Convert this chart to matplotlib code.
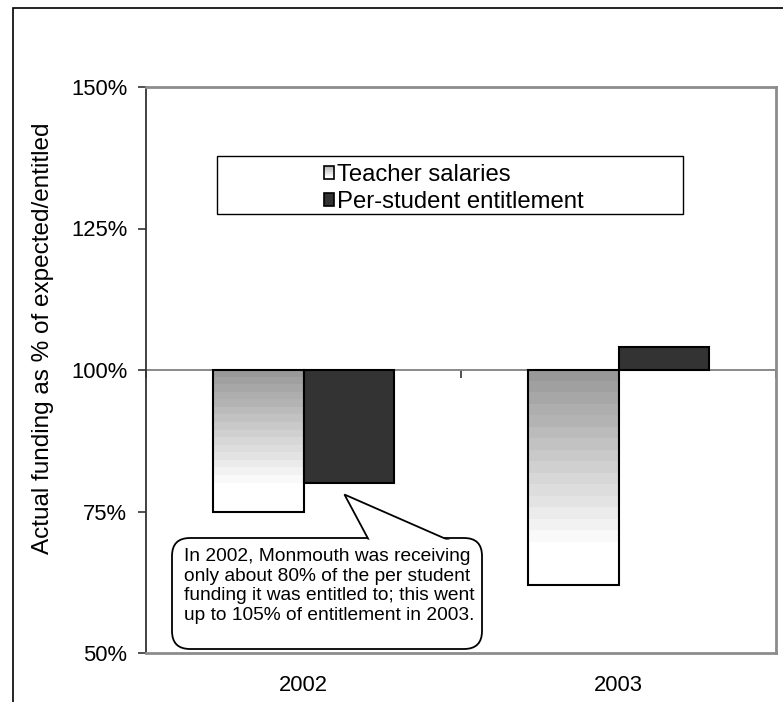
import numpy as np
import matplotlib
matplotlib.use('Agg')
import matplotlib.pyplot as plt
from matplotlib.patches import Rectangle, FancyBboxPatch, Polygon
from matplotlib.legend_handler import HandlerBase

# ---- data ----
years = ['2002', '2003']
teacher_salaries = [0.75, 0.62]
per_student = [0.80, 1.04]
series_labels = ['Teacher salaries', 'Per-student entitlement']
y_ticks = [0.50, 0.75, 1.00, 1.25, 1.50]
y_tick_labels = ['50%', '75%', '100%', '125%', '150%']
baseline = 1.0
y_label = 'Actual funding as % of expected/entitled'
note = ("In 2002, Monmouth was receiving\nonly about 80% of the per student\n"
        "funding it was entitled to; this went\nup to 105% of entitlement in 2003.")
note_target = (0.13, 0.78)   # point the callout refers to (data coords)

plt.rcParams['font.family'] = ['Liberation Sans', 'DejaVu Sans']

W, H = 783, 702
DPI = 100
fig = plt.figure(figsize=(W / DPI, H / DPI), dpi=DPI)


def fx(px):
    return px / W


def fy(py):
    return 1 - py / H


# outer chart frame (only top and left edges fall inside the picture)
fig.patches.append(Rectangle((fx(13), -0.1), 1.2, fy(8) + 0.1,
                             transform=fig.transFigure, fill=False,
                             ec='black', lw=1.2))

ax = fig.add_axes([fx(146), fy(653), fx(776) - fx(146), fy(87) - fy(653)])

x = np.arange(len(years))
w = 0.287
dark = '#333333'

t_vals = np.array(teacher_salaries)
p_vals = np.array(per_student)

tbars = ax.bar(x - w / 2, t_vals - baseline, width=w, bottom=baseline,
               facecolor='none', edgecolor='black', linewidth=1.5, zorder=3)
pbars = ax.bar(x + w / 2, p_vals - baseline, width=w, bottom=baseline,
               facecolor=dark, edgecolor='black', linewidth=1.5, zorder=3)

# stepped gradient fill of teacher bars (grey at top, white at bottom)
n = 300
t = np.linspace(0, 1, n)
levels = 15
g = 0.60 + 0.40 * np.floor(np.clip(t / 0.8, 0, 1) * levels) / levels
grad = g.reshape(-1, 1)
for bar in tbars:
    x0 = bar.get_x()
    x1 = x0 + bar.get_width()
    y0 = bar.get_y() + bar.get_height()
    y1 = bar.get_y()
    im = ax.imshow(grad, extent=[x0, x1, y0, y1], origin='upper',
                   cmap='gray', vmin=0, vmax=1, aspect='auto',
                   interpolation='nearest', zorder=2)
    im.set_clip_path(bar)

ax.set_xlim(-0.5, 1.5)
ax.set_ylim(0.5, 1.5)

ax.set_yticks(y_ticks)
ax.set_yticklabels(y_tick_labels)
ax.tick_params(axis='y', length=6, width=1.2, color='#333333', pad=7.5,
               labelsize=15.8, labelcolor='black')
ax.set_xticks(x)
ax.set_xticklabels(years)
ax.tick_params(axis='x', length=0, pad=16, labelsize=15.8)

for s in ['top', 'right', 'bottom']:
    ax.spines[s].set_color('#8c8c8c')
    ax.spines[s].set_linewidth(2)
ax.spines['left'].set_color('#333333')
ax.spines['left'].set_linewidth(1.3)

# category axis crossing at 100%
sec = ax.secondary_xaxis(0.5)
sec.set_alignment('bottom')
sec.set_xticks([-0.5, 0.5, 1.5])
sec.tick_params(axis='x', length=6, width=1.2, color='#333333',
                labelbottom=False, labeltop=False, direction='out')
for s in sec.spines.values():
    s.set_color('#808080')
    s.set_linewidth(1.3)

# y label
fig.text(fx(43), fy(338), y_label, rotation=90, ha='center', va='center',
         fontsize=17.5)


# legend
class GradientHandler(HandlerBase):
    def create_artists(self, legend, orig_handle, xdescent, ydescent,
                       width, height, fontsize, trans):
        arts = []
        m = 6
        for i in range(m):
            gv = 0.72 + 0.28 * i / (m - 1)
            r = Rectangle((-xdescent, -ydescent + height * (1 - (i + 1) / m)),
                          width, height / m, facecolor=(gv, gv, gv),
                          edgecolor='none', transform=trans)
            arts.append(r)
        arts.append(Rectangle((-xdescent, -ydescent), width, height,
                              facecolor='none', edgecolor='black',
                              lw=1.2, transform=trans))
        return arts


h1 = Rectangle((0, 0), 1, 1, fc='#dddddd', ec='black')
h2 = Rectangle((0, 0), 1, 1, fc=dark, ec='black', lw=1.2)
leg = fig.legend([h1, h2], series_labels, loc='center',
                 bbox_to_anchor=(fx(454), fy(188.5)), frameon=False,
                 fontsize=17.2, handlelength=0.42, handleheight=0.42,
                 handletextpad=0.15, labelspacing=0.22,
                 handler_map={h1: GradientHandler()})
fig.patches.append(Rectangle((fx(217), fy(214)), fx(683) - fx(217),
                             fy(156) - fy(214), transform=fig.transFigure,
                             fill=False, ec='black', lw=1.0))

# callout bubble (rounded box + wedge pointing at the 2002 per-student bar)
inch = fig.dpi_scale_trans
bx0, by0, bx1, by1 = 172, 538, 482, 649     # pixel box, y from top
rad = 18
box_kw = dict(transform=inch)
box = FancyBboxPatch((bx0 / DPI, (H - by1) / DPI), (bx1 - bx0) / DPI,
                     (by1 - by0) / DPI,
                     boxstyle=f'round,pad=0,rounding_size={rad / DPI}',
                     fc='white', ec='black', lw=1.3, zorder=1.1, **box_kw)
fig.patches.append(box)
tip = ax.transData.transform(note_target) / DPI
wedge = Polygon([tip, (372 / DPI, (H - 546) / DPI), (462 / DPI, (H - 546) / DPI)],
                closed=True, fc='white', ec='black', lw=1.3, zorder=1.2,
                transform=inch)
fig.patches.append(wedge)
ins = 1.6
cover = FancyBboxPatch(((bx0 + ins) / DPI, (H - by1 + ins) / DPI),
                       (bx1 - bx0 - 2 * ins) / DPI, (by1 - by0 - 2 * ins) / DPI,
                       boxstyle=f'round,pad=0,rounding_size={(rad - ins) / DPI}',
                       fc='white', ec='none', zorder=1.3, **box_kw)
fig.patches.append(cover)
fig.text(fx(184), fy(586), note, ha='left', va='center', fontsize=13.8,
         linespacing=1.18, zorder=3)

fig.savefig('out.png', dpi=DPI)
